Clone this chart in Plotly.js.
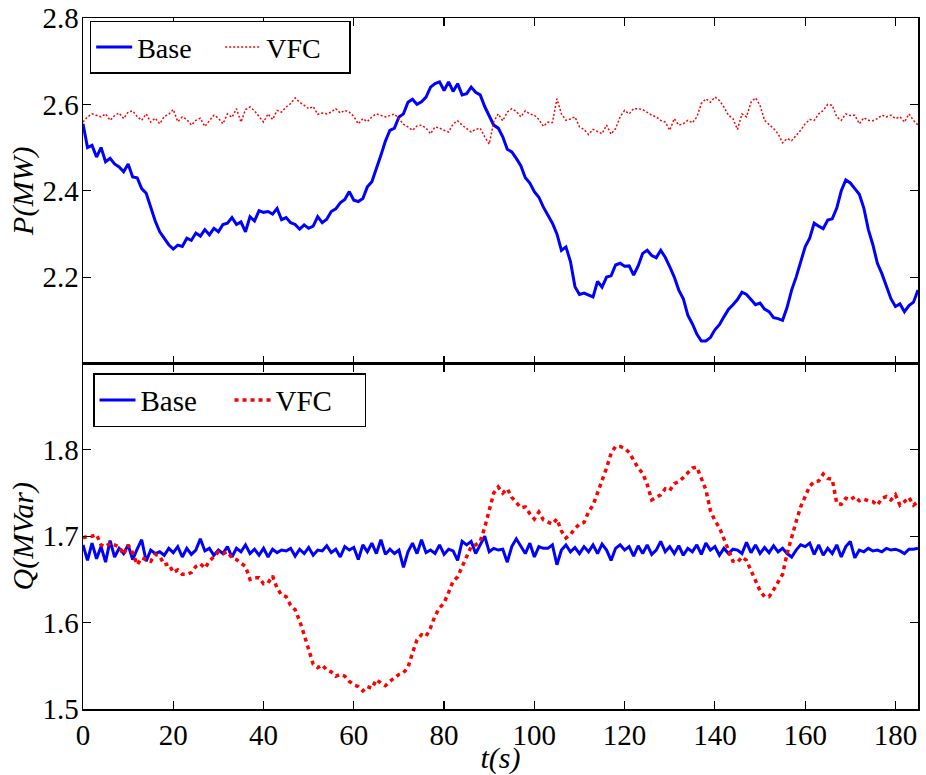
<!DOCTYPE html>
<html>
<head>
<meta charset="utf-8">
<script src="https://cdn.plot.ly/plotly-3.0.1.min.js"></script>
<style>
  html, body { margin: 0; padding: 0; background: #ffffff; }
  #chart { width: 926px; height: 775px; }
</style>
</head>
<body>
<div id="chart"></div>
<script>
// Sampling: one value per second, t = 0 .. 185 s
const seriesNames = ["Base", "VFC"];

// Active power P (MW)
const P_base = [
  2.555, 2.500, 2.505, 2.478, 2.500, 2.467, 2.475, 2.462, 2.455, 2.444,
  2.462, 2.432, 2.430, 2.405, 2.394, 2.363, 2.330, 2.305, 2.290, 2.275,
  2.265, 2.274, 2.271, 2.290, 2.285, 2.302, 2.295, 2.310, 2.298, 2.313,
  2.305, 2.322, 2.325, 2.338, 2.322, 2.328, 2.305, 2.340, 2.330, 2.354,
  2.350, 2.352, 2.346, 2.359, 2.333, 2.338, 2.326, 2.322, 2.311, 2.321,
  2.313, 2.318, 2.340, 2.326, 2.334, 2.352, 2.358, 2.372, 2.380, 2.398,
  2.378, 2.375, 2.382, 2.409, 2.421, 2.450, 2.482, 2.515, 2.540, 2.545,
  2.571, 2.578, 2.605, 2.612, 2.600, 2.606, 2.617, 2.640, 2.648, 2.652,
  2.632, 2.652, 2.630, 2.648, 2.622, 2.625, 2.640, 2.628, 2.622, 2.595,
  2.575, 2.552, 2.545, 2.525, 2.496, 2.490, 2.475, 2.458, 2.430, 2.418,
  2.398, 2.385, 2.362, 2.342, 2.325, 2.300, 2.262, 2.270, 2.236, 2.178,
  2.160, 2.163, 2.158, 2.154, 2.190, 2.177, 2.200, 2.203, 2.228, 2.232,
  2.225, 2.226, 2.205, 2.226, 2.255, 2.262, 2.250, 2.245, 2.262, 2.246,
  2.224, 2.200, 2.170, 2.150, 2.112, 2.092, 2.068, 2.052, 2.052, 2.060,
  2.078, 2.090, 2.108, 2.125, 2.136, 2.148, 2.165, 2.160, 2.148, 2.136,
  2.140, 2.126, 2.120, 2.106, 2.104, 2.100, 2.130, 2.170, 2.200, 2.235,
  2.270, 2.290, 2.325, 2.318, 2.312, 2.332, 2.335, 2.360, 2.400, 2.425,
  2.418, 2.405, 2.392, 2.360, 2.310, 2.275, 2.232, 2.208, 2.178, 2.150,
  2.132, 2.138, 2.120, 2.134, 2.142, 2.170
];
const P_vfc = [
  2.559, 2.571, 2.578, 2.575, 2.571, 2.578, 2.563, 2.574, 2.580, 2.567,
  2.582, 2.585, 2.572, 2.563, 2.578, 2.559, 2.568, 2.555, 2.572, 2.577,
  2.588, 2.560, 2.571, 2.565, 2.552, 2.563, 2.568, 2.549, 2.563, 2.575,
  2.568, 2.555, 2.578, 2.570, 2.590, 2.559, 2.588, 2.594, 2.585, 2.571,
  2.559, 2.578, 2.565, 2.586, 2.582, 2.594, 2.602, 2.615, 2.605, 2.598,
  2.590, 2.595, 2.577, 2.580, 2.578, 2.582, 2.590, 2.580, 2.586, 2.582,
  2.572, 2.555, 2.567, 2.560, 2.571, 2.578, 2.574, 2.571, 2.574, 2.578,
  2.567, 2.554, 2.548, 2.540, 2.550, 2.552, 2.545, 2.532, 2.548, 2.545,
  2.540, 2.536, 2.555, 2.562, 2.552, 2.545, 2.536, 2.542, 2.545, 2.525,
  2.508, 2.560, 2.578, 2.562, 2.582, 2.590, 2.584, 2.571, 2.585, 2.578,
  2.575, 2.565, 2.549, 2.559, 2.558, 2.613, 2.578, 2.563, 2.566, 2.571,
  2.548, 2.542, 2.530, 2.542, 2.537, 2.532, 2.552, 2.531, 2.544, 2.571,
  2.586, 2.578, 2.590, 2.590, 2.588, 2.582, 2.575, 2.571, 2.563, 2.559,
  2.540, 2.567, 2.552, 2.555, 2.563, 2.557, 2.571, 2.602, 2.613, 2.605,
  2.617, 2.609, 2.594, 2.575, 2.567, 2.542, 2.578, 2.571, 2.605, 2.615,
  2.598, 2.563, 2.554, 2.544, 2.532, 2.511, 2.521, 2.516, 2.528, 2.540,
  2.555, 2.565, 2.563, 2.578, 2.586, 2.600, 2.598, 2.571, 2.563, 2.578,
  2.574, 2.575, 2.555, 2.569, 2.563, 2.562, 2.567, 2.575, 2.571, 2.575,
  2.567, 2.571, 2.559, 2.578, 2.563, 2.552
];

// Reactive power Q (MVar)
const Q_base = [
  1.690, 1.672, 1.692, 1.674, 1.688, 1.670, 1.695, 1.676, 1.686, 1.680,
  1.690, 1.673, 1.685, 1.696, 1.671, 1.684, 1.680, 1.682, 1.678, 1.686,
  1.681, 1.688, 1.676, 1.686, 1.679, 1.684, 1.697, 1.683, 1.686, 1.678,
  1.684, 1.680, 1.688, 1.676, 1.686, 1.682, 1.690, 1.680, 1.685, 1.678,
  1.686, 1.676, 1.685, 1.681, 1.684, 1.683, 1.686, 1.677, 1.685, 1.680,
  1.687, 1.678, 1.684, 1.683, 1.689, 1.681, 1.685, 1.676, 1.688, 1.684,
  1.687, 1.673, 1.690, 1.682, 1.692, 1.680, 1.696, 1.679, 1.685, 1.680,
  1.684, 1.664, 1.682, 1.692, 1.680, 1.696, 1.681, 1.684, 1.680, 1.690,
  1.679, 1.685, 1.683, 1.672, 1.694, 1.690, 1.694, 1.680, 1.690, 1.700,
  1.682, 1.686, 1.684, 1.685, 1.670, 1.688, 1.697, 1.688, 1.680, 1.692,
  1.676, 1.688, 1.686, 1.686, 1.690, 1.667, 1.684, 1.690, 1.682, 1.687,
  1.680, 1.688, 1.682, 1.690, 1.680, 1.691, 1.684, 1.672, 1.686, 1.690,
  1.684, 1.688, 1.677, 1.689, 1.680, 1.690, 1.679, 1.684, 1.694, 1.682,
  1.688, 1.680, 1.689, 1.678, 1.686, 1.682, 1.690, 1.679, 1.692, 1.684,
  1.688, 1.678, 1.686, 1.680, 1.685, 1.684, 1.680, 1.693, 1.681, 1.690,
  1.680, 1.687, 1.681, 1.689, 1.682, 1.686, 1.680, 1.676, 1.684, 1.690,
  1.688, 1.692, 1.679, 1.690, 1.678, 1.686, 1.680, 1.690, 1.676, 1.688,
  1.694, 1.675, 1.684, 1.682, 1.686, 1.683, 1.684, 1.682, 1.686, 1.684,
  1.685, 1.683, 1.680, 1.685, 1.685, 1.686
];
const Q_vfc = [
  1.698, 1.700, 1.700, 1.702, 1.690, 1.688, 1.692, 1.690, 1.688, 1.679,
  1.690, 1.681, 1.667, 1.675, 1.673, 1.671, 1.679, 1.677, 1.667, 1.668,
  1.658, 1.661, 1.656, 1.656, 1.658, 1.665, 1.668, 1.663, 1.671, 1.676,
  1.682, 1.680, 1.682, 1.675, 1.673, 1.669, 1.665, 1.650, 1.652, 1.652,
  1.645, 1.646, 1.654, 1.640, 1.632, 1.630, 1.620, 1.615, 1.602, 1.586,
  1.570, 1.552, 1.548, 1.551, 1.545, 1.543, 1.538, 1.540, 1.538, 1.532,
  1.528, 1.526, 1.521, 1.526, 1.524, 1.534, 1.530, 1.527, 1.532, 1.536,
  1.540, 1.542, 1.548, 1.565, 1.580, 1.586, 1.584, 1.594, 1.608, 1.617,
  1.623, 1.635, 1.648, 1.653, 1.665, 1.675, 1.688, 1.690, 1.694, 1.710,
  1.730, 1.750, 1.757, 1.750, 1.755, 1.745, 1.739, 1.733, 1.734, 1.726,
  1.720, 1.728, 1.719, 1.717, 1.714, 1.720, 1.706, 1.698, 1.702, 1.709,
  1.714, 1.716, 1.728, 1.736, 1.750, 1.766, 1.779, 1.796, 1.804, 1.804,
  1.802, 1.797, 1.788, 1.779, 1.773, 1.760, 1.742, 1.745, 1.748, 1.755,
  1.753, 1.761, 1.763, 1.768, 1.773, 1.779, 1.780, 1.768, 1.754, 1.730,
  1.718, 1.710, 1.697, 1.685, 1.671, 1.670, 1.676, 1.672, 1.661, 1.650,
  1.637, 1.630, 1.630, 1.638, 1.648, 1.656, 1.680, 1.700, 1.717, 1.734,
  1.746, 1.758, 1.763, 1.764, 1.772, 1.767, 1.766, 1.738, 1.737, 1.744,
  1.742, 1.746, 1.741, 1.743, 1.741, 1.740, 1.736, 1.744, 1.746, 1.742,
  1.748, 1.736, 1.740, 1.745, 1.736, 1.740
];

const xTickVals = [0, 20, 40, 60, 80, 100, 120, 140, 160, 180];
const pTickVals = [2.2, 2.4, 2.6, 2.8];
const qTickVals = [1.5, 1.6, 1.7, 1.8];

const time = P_base.map((_, i) => i);

const FONT = "Liberation Serif";
const BLUE = "#0000ff";
const RED = "#ff0000";

const traces = [
  { x: time, y: P_base, name: seriesNames[0], type: "scatter", mode: "lines",
    line: { color: BLUE, width: 3 }, xaxis: "x", yaxis: "y", legend: "legend" },
  { x: time, y: P_vfc, name: seriesNames[1], type: "scatter", mode: "lines",
    line: { color: RED, width: 1.5, dash: "2px,2px" }, xaxis: "x", yaxis: "y", legend: "legend" },
  { x: time, y: Q_base, name: seriesNames[0], type: "scatter", mode: "lines",
    line: { color: BLUE, width: 3 }, xaxis: "x2", yaxis: "y2", legend: "legend2" },
  { x: time, y: Q_vfc, name: seriesNames[1], type: "scatter", mode: "lines",
    line: { color: RED, width: 3.5, dash: "4px,4px" }, xaxis: "x2", yaxis: "y2", legend: "legend2" }
];

const axisCommon = {
  showline: true, linecolor: "#000", linewidth: 1.5,
  mirror: "ticks", ticks: "inside", ticklen: 8, tickwidth: 1.2, tickcolor: "#000",
  showgrid: false, zeroline: false,
  tickfont: { family: FONT, size: 29, color: "#000" }
};

const legendCommon = {
  orientation: "h", xanchor: "left", yanchor: "top",
  bgcolor: "#ffffff", bordercolor: "#000", borderwidth: 1.5,
  font: { family: FONT, size: 28, color: "#000" },
  itemwidth: 36, entrywidth: 78, tracegroupgap: 0, itemclick: false
};

const layout = {
  width: 926, height: 775,
  margin: { l: 83, r: 8, t: 18, b: 66 },
  paper_bgcolor: "#ffffff", plot_bgcolor: "#ffffff",
  font: { family: FONT, color: "#000" },
  showlegend: true,
  xaxis: Object.assign({}, axisCommon, {
    domain: [0, 1], anchor: "y", range: [0, 185], tickvals: xTickVals,
    showticklabels: false
  }),
  yaxis: Object.assign({}, axisCommon, {
    domain: [0.5, 1], anchor: "x", range: [2.0, 2.8], tickvals: pTickVals,
    tickformat: ".1f", ticklabelstandoff: -3,
    title: { text: "<i>P(MW)</i>", font: { family: FONT, size: 30, color: "#000" }, standoff: 0 }
  }),
  xaxis2: Object.assign({}, axisCommon, {
    domain: [0, 1], anchor: "y2", range: [0, 185], tickvals: xTickVals,
    title: { text: "<i>t(s)</i>", font: { family: FONT, size: 30, color: "#000" }, standoff: 2 }
  }),
  yaxis2: Object.assign({}, axisCommon, {
    domain: [0, 0.5], anchor: "x2", range: [1.5, 1.9], tickvals: qTickVals,
    tickformat: ".1f", ticklabelstandoff: -3,
    title: { text: "<i>Q(MVar)</i>", font: { family: FONT, size: 30, color: "#000" }, standoff: 0 }
  }),
  legend: Object.assign({}, legendCommon, { x: 0.008, y: 0.996 }),
  legend2: Object.assign({}, legendCommon, {
    x: 0.012, y: 0.486, entrywidth: 84,
    font: { family: FONT, size: 29, color: "#000" }
  })
};

Plotly.newPlot("chart", traces, layout, { staticPlot: true, displayModeBar: false });
</script>
</body>
</html>
